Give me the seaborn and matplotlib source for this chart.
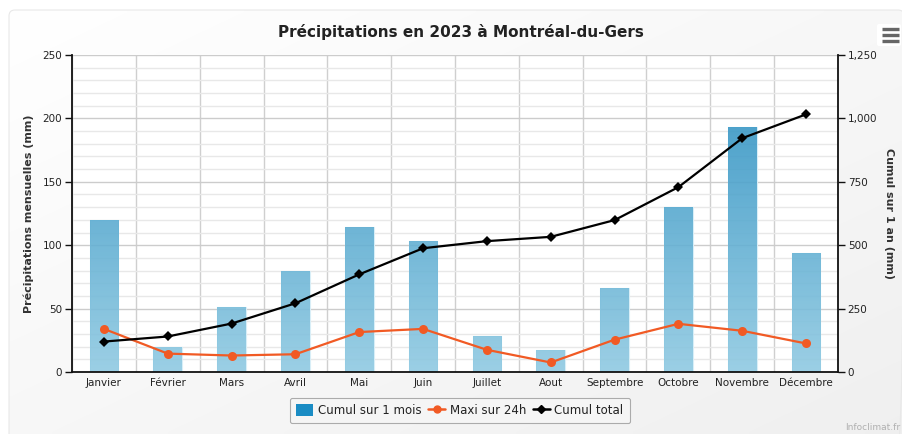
import numpy as np
import pandas as pd
import matplotlib
matplotlib.use("Agg")
import matplotlib.pyplot as plt
import seaborn as sns
from matplotlib.lines import Line2D
from matplotlib.patches import Patch, FancyBboxPatch
from matplotlib.ticker import FuncFormatter, MultipleLocator, FixedLocator

months = ["Janvier", "Février", "Mars", "Avril", "Mai", "Juin", "Juillet",
          "Aout", "Septembre", "Octobre", "Novembre", "Décembre"]
cumul_mois = [120, 20, 51, 80, 114, 103, 28, 17, 66, 130, 193, 94]
maxi_24h = [34, 14.5, 13, 14, 31.5, 34, 17.5, 7.5, 25.5, 38, 32.5, 22.5]
cumul_total = [120, 140, 191, 271, 385, 488, 516, 533, 599, 729, 922, 1016]

df = pd.DataFrame({"mois": months, "cumul": cumul_mois, "maxi": maxi_24h,
                   "total": cumul_total})

sns.set_theme(style="white")
plt.rcParams["font.family"] = ["DejaVu Sans"]

W, H = 902, 434
fig = plt.figure(figsize=(W / 100, H / 100), dpi=100)
fig.patch.set_facecolor("white")

# background card with soft gradient
bg = fig.add_axes([0, 0, 1, 1], zorder=-5)
bg.set_xlim(0, W); bg.set_ylim(H, 0); bg.axis("off")
gx = np.linspace(0, 1, 200)
gy = np.linspace(0, 1, 100)
GX, GY = np.meshgrid(gx, gy)
grad = 1.0 - 0.06 * (0.5 * GX + 0.5 * GY)
card = FancyBboxPatch((9, 10), W - 7, H, boxstyle="round,pad=0,rounding_size=6",
                      facecolor="none", edgecolor="#e8e8e8", lw=0.8)
bg.add_patch(card)
im = bg.imshow(np.dstack([grad, grad, grad]), extent=(9, W, H, 10), aspect="auto",
               interpolation="bilinear")
im.set_clip_path(card)
# hamburger menu
bg.add_patch(FancyBboxPatch((877, 24), 24, 22, boxstyle="round,pad=0,rounding_size=2",
                            facecolor="white", edgecolor="none"))
for yy in (29, 35, 41):
    bg.plot([882, 899], [yy, yy], color="#666666", lw=2.4, solid_capstyle="butt")
bg.text(845, 432, "Infoclimat.fr", fontsize=6.5, color="#b0b0b0", ha="left", va="bottom")

x0, x1, y0, y1 = 72, 838, 55, 372
ax = fig.add_axes([x0 / W, 1 - y1 / H, (x1 - x0) / W, (y1 - y0) / H])
ax.set_facecolor("white")

sns.barplot(data=df, x="mois", y="cumul", ax=ax, color="#4aa3cf", width=0.45,
            edgecolor="#d8eef7", linewidth=0.8, zorder=2, saturation=1)
ax.set_xlim(-0.5, 11.5)
ax.set_ylim(0, 250)

# gradient fill for the bars (slightly translucent so the grid shows through)
cmap_arr = np.linspace(0, 1, 100)[:, None]
top_c = np.array([0x22, 0x8a, 0xbe]) / 255
bot_c = np.array([0x90, 0xca, 0xe2]) / 255
grad_img = top_c[None, None, :] * (1 - cmap_arr[..., None]) + bot_c[None, None, :] * cmap_arr[..., None]
for p in ax.patches:
    p.set_facecolor("none")
    bx, bw = p.get_x(), p.get_width()
    gi = ax.imshow(grad_img, extent=(bx, bx + bw, 0, 250), aspect="auto",
                   zorder=2.1, interpolation="bilinear", origin="upper", alpha=0.9)
    gi.set_clip_path(p)
ax.set_xlim(-0.5, 11.5)
ax.set_ylim(0, 250)

sns.lineplot(x=np.arange(12), y=df["maxi"], ax=ax, color="#f15a24", lw=1.6,
             marker="o", markersize=6.5, markeredgewidth=0, zorder=4)

# grid
ax.yaxis.set_major_locator(MultipleLocator(50))
ax.yaxis.set_minor_locator(MultipleLocator(10))
ax.grid(which="major", axis="y", color="#cccccc", lw=1.0, zorder=0)
ax.grid(which="minor", axis="y", color="#e8e8e8", lw=1.0, zorder=0)
ax.xaxis.set_minor_locator(FixedLocator(np.arange(-0.5, 12, 1)))
ax.grid(which="minor", axis="x", color="#cfcfcf", lw=1.0, zorder=0)
ax.set_axisbelow(True)

for s in ("top", "right"):
    ax.spines[s].set_visible(False)
for s in ("left", "bottom"):
    ax.spines[s].set_color("#111111")
    ax.spines[s].set_linewidth(1.3)

ax.tick_params(axis="x", which="major", length=0, pad=4, labelsize=7.5, colors="#222222")
ax.tick_params(axis="x", which="minor", length=5, width=1, color="#333333", direction="out")
ax.tick_params(axis="y", which="major", length=5, width=1, color="#111111",
               direction="out", labelsize=7.5, labelcolor="#222222", pad=2)
ax.tick_params(axis="y", which="minor", length=0)
ax.set_xlabel("")
ax.set_ylabel("Précipitations mensuelles (mm)", fontsize=8, color="#333333",
              fontweight="bold", labelpad=6)

ax2 = ax.twinx()
sns.lineplot(x=np.arange(12), y=df["total"], ax=ax2, color="#000000", lw=1.6,
             marker="D", markersize=5, markeredgewidth=0, zorder=5)
ax2.set_ylim(0, 1250)
ax2.set_xlim(-0.5, 11.5)
ax2.yaxis.set_major_locator(MultipleLocator(250))
ax2.yaxis.set_major_formatter(FuncFormatter(lambda v, p: f"{int(v):,}"))
for s in ("top", "left", "bottom"):
    ax2.spines[s].set_visible(False)
ax2.spines["right"].set_color("#111111")
ax2.spines["right"].set_linewidth(1.3)
ax2.tick_params(axis="y", length=5, width=1, color="#111111", direction="out",
                labelsize=7.5, labelcolor="#222222", pad=2)
ax2.set_ylabel("Cumul sur 1 an (mm)", fontsize=8, color="#333333", fontweight="bold",
               rotation=270, labelpad=12)
ax2.grid(False)

fig.text(461 / W, 1 - 32 / H, "Précipitations en 2023 à Montréal-du-Gers",
         ha="center", va="center", fontsize=11, fontweight="bold", color="#222222")

handles = [Patch(facecolor="#1a8cc4", edgecolor="none"),
           Line2D([0], [0], color="#f15a24", lw=1.8, marker="o", markersize=5),
           Line2D([0], [0], color="#000000", lw=1.8, marker="D", markersize=4)]
leg = fig.legend(handles, ["Cumul sur 1 mois", "Maxi sur 24h", "Cumul total"],
                 loc="center", bbox_to_anchor=(460 / W, 1 - 410.5 / H), ncol=3,
                 fontsize=8.5, frameon=True, handlelength=1.4, handleheight=1.1,
                 handletextpad=0.4, columnspacing=0.6, borderpad=0.55, fancybox=True)
leg.get_frame().set_edgecolor("#999999")
leg.get_frame().set_facecolor("#f6f6f6")
leg.get_frame().set_linewidth(0.8)
for t in leg.get_texts():
    t.set_color("#222222")

fig.savefig("out.png", dpi=100)
